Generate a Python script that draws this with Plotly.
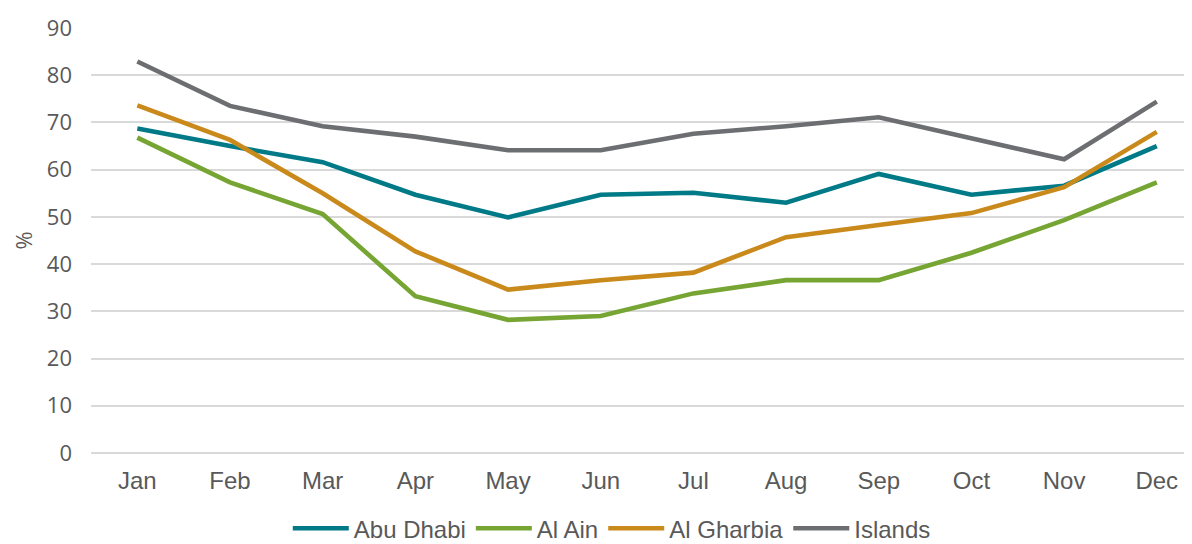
import plotly.graph_objects as go

months = ["Jan", "Feb", "Mar", "Apr", "May", "Jun", "Jul", "Aug", "Sep", "Oct", "Nov", "Dec"]
abu_dhabi = [68.7, 65.0, 61.6, 54.7, 49.9, 54.7, 55.1, 53.0, 59.1, 54.7, 56.6, 65.0]
al_ain = [66.8, 57.3, 50.6, 33.2, 28.2, 29.0, 33.8, 36.6, 36.6, 42.4, 49.3, 57.3]
al_gharbia = [73.6, 66.3, 55.0, 42.7, 34.6, 36.6, 38.2, 45.7, 48.3, 50.8, 56.3, 68.0]
islands = [82.9, 73.5, 69.2, 67.0, 64.1, 64.1, 67.6, 69.2, 71.1, 66.6, 62.2, 74.4]

series = [
    ("Abu Dhabi", abu_dhabi, "#007A87"),
    ("Al Ain", al_ain, "#76A533"),
    ("Al Gharbia", al_gharbia, "#C98A1B"),
    ("Islands", islands, "#6D6E72"),
]

fig = go.Figure()
for name, vals, color in series:
    fig.add_trace(go.Scatter(
        x=months, y=vals, name=name, mode="lines",
        line=dict(color=color, width=4.6),
    ))

fig.update_layout(
    width=1184, height=536,
    margin=dict(l=83, r=0, t=20, b=91, autoexpand=False),
    paper_bgcolor="white", plot_bgcolor="white",
    showlegend=True,
    legend=dict(
        orientation="h", x=0.473, xanchor="center", y=-0.178, yanchor="middle",
        font=dict(family="Liberation Sans, Arial", size=24, color="#595959"),
        itemwidth=56, tracegroupgap=0,
    ),
    font=dict(family="Liberation Sans, Arial", color="#595959"),
)
fig.update_xaxes(
    type="category", range=[-0.5, 11.38], automargin=False,
    showgrid=False, zeroline=False, showline=False, ticks="",
    ticklabelstandoff=11,
    tickfont=dict(family="Liberation Sans, Arial", size=24, color="#595959"),
)
fig.update_yaxes(
    range=[0, 90], dtick=10, tick0=0, automargin=False,
    showgrid=True, gridcolor="#D9D9D9", gridwidth=1.5,
    zeroline=True, zerolinecolor="#D9D9D9", zerolinewidth=1.5,
    showline=False, ticks="", ticklabelstandoff=18,
    tickfont=dict(family="Open Sans", size=22, color="#595959"),
    title=dict(text="%", font=dict(family="Open Sans", size=22, color="#595959"), standoff=12),
)

fig.write_html("out.html")
